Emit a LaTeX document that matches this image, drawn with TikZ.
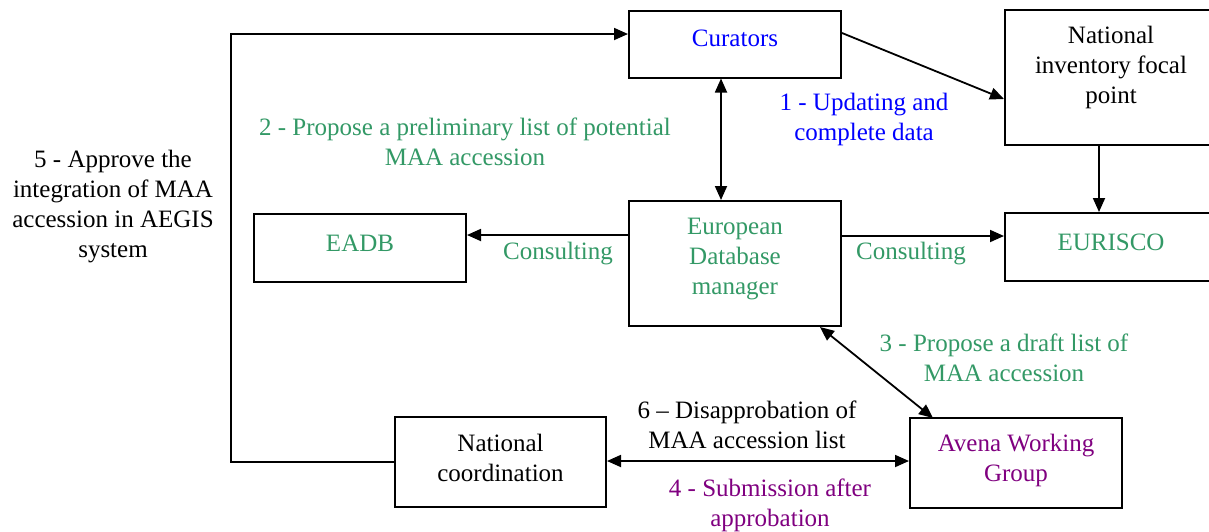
\documentclass[tikz,border=0pt]{standalone}
\usepackage{fontspec}
\setmainfont{Liberation Serif}
\usetikzlibrary{arrows.meta}
\definecolor{cblue}{RGB}{0,0,255}
\definecolor{cgreen}{RGB}{51,153,102}
\definecolor{cpurple}{RGB}{128,0,128}
\tikzset{
  box/.style={draw=black, line width=2pt, minimum width=#1, inner sep=0pt, rectangle},
  txt/.style={align=center, inner sep=0pt, font=\fontsize{25}{30}\selectfont},
  conn/.style={line width=1.8pt, -{Triangle[length=14pt,width=12pt]}},
  biconn/.style={line width=1.8pt, {Triangle[length=14pt,width=12pt]}-{Triangle[length=14pt,width=12pt]}}
}
\begin{document}
\begin{tikzpicture}[x=1pt,y=-1pt]
\clip (0,0) rectangle (1209,531);
\fill[white] (0,0) rectangle (1209,531);
% boxes
\node[box=212pt, minimum height=67pt] (cur) at (735,44) {};
\node[box=212pt, minimum height=135pt] (nifp) at (1111,77.5) {};
\node[box=212pt, minimum height=68pt] (eur) at (1111,247) {};
\node[box=212pt, minimum height=125pt] (edm) at (735,263.5) {};
\node[box=212pt, minimum height=68pt] (eadb) at (360,248) {};
\node[box=211pt, minimum height=90pt] (nc) at (500.5,462) {};
\node[box=212pt, minimum height=90pt] (avena) at (1016,462.5) {};
% box texts
\node[txt, text=cblue] (curT) at (735,38) {Curators};
\node[txt] (nifpT) at (1111,67) {National\\inventory focal\\point};
\node[txt, text=cgreen] (eurT) at (1111,242) {EURISCO};
\node[txt, text=cgreen] (edmT) at (735,259) {European\\Database\\manager};
\node[txt, text=cgreen] (eadbT) at (360,243) {EADB};
\node[txt] (ncT) at (500.5,458) {National\\coordination};
\node[txt, text=cpurple] (avT) at (1016,460) {Avena Working\\Group};
% labels
\node[txt, text=cblue] (l1) at (864,119) {1 - Updating and\\complete data};
\node[txt, text=cgreen] (l2) at (465,142) {2 - Propose a preliminary list of potential\\MAA accession};
\node[txt, text=cgreen] (l3) at (1004,358) {3 - Propose a draft list of\\MAA accession};
\node[txt, text=cpurple] (l4) at (770,505) {4 - Submission after\\approbation};
\node[txt] (l5) at (113,207) {5 - Approve the\\integration of MAA\\accession in AEGIS\\system};
\node[txt] (l6) at (747,425) {6 -- Disapprobation of\\MAA accession list};
\node[txt, text=cgreen] (c1) at (558,254) {Consulting};
\node[txt, text=cgreen] (c2) at (911,254) {Consulting};
% connectors
\draw[conn] (cur.east |- 0,33) -- (nifp.west |- 0,99);
\draw[conn] (nifp.south -| 1099,0) -- (eur.north -| 1099,0);
\draw[biconn] (cur.south -| 721,0) -- (edm.north -| 721,0);
\draw[conn] (edm.west |- 0,235) -- (eadb.east |- 0,235);
\draw[conn] (edm.east |- 0,236) -- (eur.west |- 0,236);
\draw[biconn] (820,327) -- (933,418);
\draw[biconn] (nc.east |- 0,461) -- (avena.west |- 0,461);
\draw[conn] (nc.west |- 0,462) -- (231,462) -- (231,34) -- (cur.west |- 0,34);
\end{tikzpicture}
\end{document}
